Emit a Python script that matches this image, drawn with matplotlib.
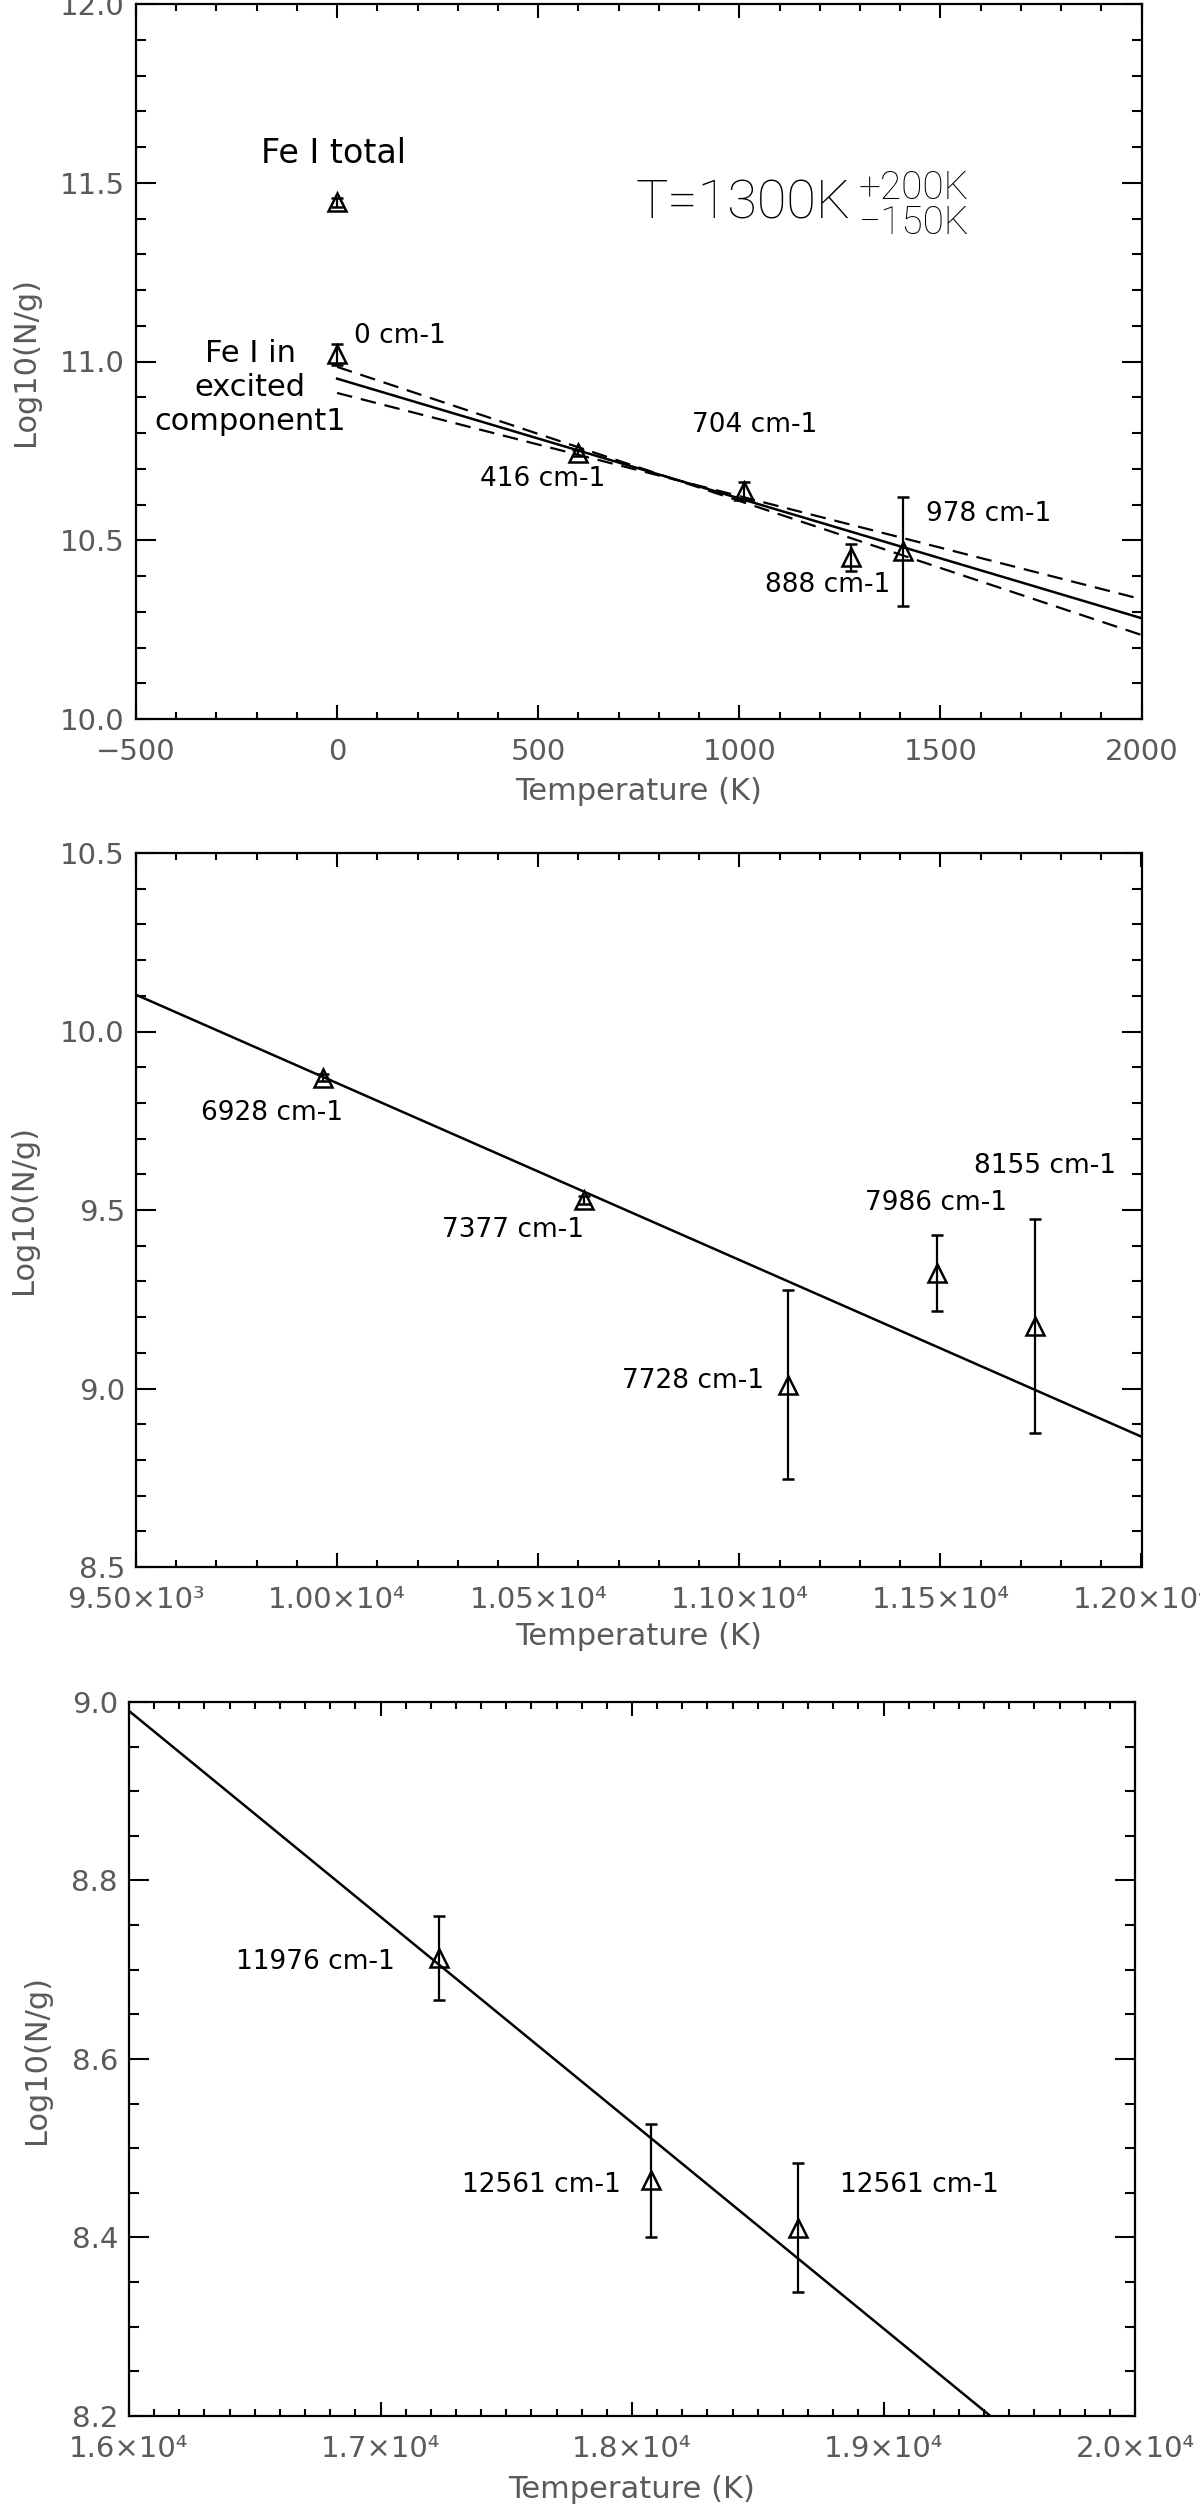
import matplotlib
matplotlib.use("Agg")
import matplotlib.pyplot as plt
from matplotlib.ticker import MultipleLocator

# ---- panel 1: Fe I ground term levels ----
levels1 = ['0 cm-1', '416 cm-1', '704 cm-1', '888 cm-1', '978 cm-1']
temp1 = [0, 599, 1011, 1278, 1406]
logn1 = [11.02, 10.744, 10.637, 10.452, 10.469]
err1 = [0.03, 0.008, 0.025, 0.038, 0.153]
total_temp = [0]
total_logn = [11.445]
total_err = [0.012]
fit1_temp = [0, 2000]
fit1_1300 = [10.952, 10.282]
fit1_1150 = [10.985, 10.235]
fit1_1500 = [10.912, 10.335]
xticks1 = [-500, 0, 500, 1000, 1500, 2000]
xlabels1 = ['\u2212500', '0', '500', '1000', '1500', '2000']
yticks1 = [10.0, 10.5, 11.0, 11.5, 12.0]

# ---- panel 2: a5F levels ----
levels2 = ['6928 cm-1', '7377 cm-1', '7728 cm-1', '7986 cm-1', '8155 cm-1']
temp2 = [9966, 10613, 11120, 11491, 11734]
logn2 = [9.870, 9.528, 9.011, 9.324, 9.175]
err2 = [0.01, 0.012, 0.265, 0.106, 0.30]
fit2_temp = [9500, 12000]
fit2_logn = [10.103, 8.865]
xticks2 = [9500, 10000, 10500, 11000, 11500, 12000]
xlabels2 = ['9.50\u00d710\u00b3', '1.00\u00d710\u2074', '1.05\u00d710\u2074',
            '1.10\u00d710\u2074', '1.15\u00d710\u2074', '1.20\u00d710\u2074']
yticks2 = [8.5, 9.0, 9.5, 10.0, 10.5]

# ---- panel 3: a3F levels ----
levels3 = ['11976 cm-1', '12561 cm-1', '12561 cm-1']
temp3 = [17234, 18074, 18660]
logn3 = [8.713, 8.464, 8.411]
err3 = [0.047, 0.063, 0.072]
fit3_temp = [16000, 19425]
fit3_logn = [8.99, 8.2]
xticks3 = [16000, 17000, 18000, 19000, 20000]
xlabels3 = ['1.6\u00d710\u2074', '1.7\u00d710\u2074', '1.8\u00d710\u2074',
            '1.9\u00d710\u2074', '2.0\u00d710\u2074']
yticks3 = [8.2, 8.4, 8.6, 8.8, 9.0]

plt.rcParams['font.family'] = ['DejaVu Sans']
tickfont = dict(family=['DejaVu Sans'], size=21, color='#5a5a5a')
labfont = dict(family=['DejaVu Sans'], size=22, color='#5a5a5a')
notefont = dict(size=19, color='black')
light = dict(family=['Roboto', 'DejaVu Sans'], weight='light', color='black')

fig = plt.figure(figsize=(12, 25.08), dpi=100)


def setup(ax, xlim, ylim, xt, xl, yt, xminor, yminor, ylab_x, xlab_y):
    ax.set_xlim(xlim)
    ax.set_ylim(ylim)
    ax.set_xticks(xt, labels=xl, **tickfont)
    ax.set_yticks(yt, labels=['%.1f' % v for v in yt], **tickfont)
    ax.xaxis.set_minor_locator(MultipleLocator(xminor))
    ax.yaxis.set_minor_locator(MultipleLocator(yminor))
    ax.tick_params(which='both', direction='in', top=True, right=True, width=1.5)
    ax.tick_params(axis='x', which='major', length=10, pad=14)
    ax.tick_params(axis='x', which='minor', length=5)
    ax.tick_params(axis='y', which='major', length=14.4, pad=8)
    ax.tick_params(axis='y', which='minor', length=7.2)
    for s in ax.spines.values():
        s.set_linewidth(1.6)
    ax.set_xlabel('Temperature (K)', va='center', **labfont)
    ax.set_ylabel('Log10(N/g)', va='center', **labfont)
    ax.xaxis.set_label_coords(0.5, xlab_y)
    ax.yaxis.set_label_coords(ylab_x, 0.5)


def points(ax, x, y, e):
    ax.errorbar(x, y, yerr=e, fmt='^', ms=13, mfc='none', mec='black', mew=1.8,
                ecolor='black', elinewidth=1.6, capsize=4.2, capthick=1.6, zorder=3)


# panel 1
ax1 = fig.add_axes([136 / 1200, 1 - 719 / 2508, 1005.5 / 1200, 715 / 2508])
setup(ax1, (-500, 2000), (10.0, 12.0), xticks1, xlabels1, yticks1, 100, 0.1, -0.110, -0.102)
ax1.plot(fit1_temp, fit1_1300, color='black', lw=1.8)
ax1.plot(fit1_temp, fit1_1150, color='black', lw=1.6, dashes=(7, 4))
ax1.plot(fit1_temp, fit1_1500, color='black', lw=1.6, dashes=(7, 4))
points(ax1, total_temp, total_logn, total_err)
points(ax1, temp1, logn1, err1)
pos1 = [(157, 11.071), (512, 10.672), (1039, 10.822), (1220, 10.375), (1619, 10.573)]
for txt, (px, py) in zip(levels1, pos1):
    ax1.text(px, py, txt, ha='center', va='center', **notefont)
ax1.text(-10, 11.583, 'Fe I total', ha='center', va='center', size=24)
ax1.text(-216, 10.928, 'Fe I in\nexcited\ncomponent1', ha='center', va='center',
         multialignment='center', size=22, linespacing=1.22)
main = ax1.text(741, 11.401, 'T=1300K', ha='left', va='baseline', size=39, **light)
ax1.annotate('+200K', xy=(1, 0.80), xycoords=main, xytext=(6, 0),
             textcoords='offset points', ha='left', va='center', size=28, **light)
ax1.annotate('\u2212150K', xy=(1, 0.12), xycoords=main, xytext=(6, 0),
             textcoords='offset points', ha='left', va='center', size=28, **light)

# panel 2
ax2 = fig.add_axes([136 / 1200, 1 - 1567 / 2508, 1005.5 / 1200, 714 / 2508])
setup(ax2, (9500, 12000), (8.5, 10.5), xticks2, xlabels2, yticks2, 100, 0.1, -0.112, -0.098)
ax2.plot(fit2_temp, fit2_logn, color='black', lw=1.8)
points(ax2, temp2, logn2, err2)
pos2 = [(9837, 9.772), (10437, 9.443), (10886, 9.020), (11488, 9.520), (11759, 9.623)]
for txt, (px, py) in zip(levels2, pos2):
    ax2.text(px, py, txt, ha='center', va='center', **notefont)

# panel 3
ax3 = fig.add_axes([129 / 1200, 1 - 2416 / 2508, 1006 / 1200, 714 / 2508])
setup(ax3, (16000, 20000), (8.2, 9.0), xticks3, xlabels3, yticks3, 100, 0.05, -0.092, -0.1036)
ax3.plot(fit3_temp, fit3_logn, color='black', lw=1.8)
points(ax3, temp3, logn3, err3)
pos3 = [(16742, 8.709), (17638, 8.459), (19141, 8.459)]
for txt, (px, py) in zip(levels3, pos3):
    ax3.text(px, py, txt, ha='center', va='center', **notefont)

fig.savefig('out.png', dpi=100)
